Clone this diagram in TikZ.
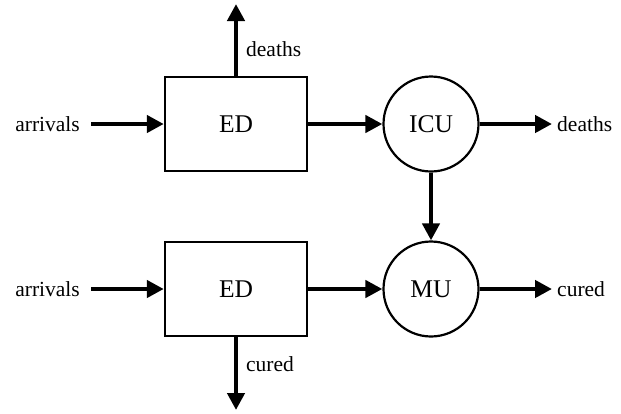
\documentclass[tikz,border=0pt]{standalone}
\usepackage{fontspec}
\setmainfont{Liberation Serif}
\usetikzlibrary{arrows.meta}
\begin{document}
\begin{tikzpicture}[x=1pt,y=-1pt,
  flow/.style={line width=4.5pt,-{Triangle[length=17pt,width=17pt]}},
  unitbox/.style={draw,line width=2.4pt,minimum width=142pt,minimum height=94pt,inner sep=0pt,font=\fontsize{25.5}{28}\selectfont},
  ward/.style={draw,circle,line width=2.2pt,minimum size=95pt,inner sep=0pt,font=\fontsize{25.5}{28}\selectfont},
  lab/.style={inner ysep=0pt,font=\fontsize{21.5}{24}\selectfont}]
\useasboundingbox (0,0) rectangle (621,413);
% top row: emergency department feeding the ICU
\node[unitbox] (ed1) at (236,124) {ED};
\node[ward] (icu) at (431,124) {ICU};
\node[lab,anchor=east,inner xsep=11pt] (arr1) at (91,124) {arrivals};
\node[lab,anchor=west,inner xsep=5pt] (dth2) at (552,124) {deaths};
\coordinate (up) at (236,4);
\node[lab,anchor=west,inner xsep=0pt] (dth1) at (246,49) {deaths};
\draw[flow] (arr1.east) -- (ed1.west);
\draw[flow] (ed1.north) -- (up);
\draw[flow] (ed1.east) -- (icu.west);
\draw[flow] (icu.east) -- (dth2.west);
% bottom row: emergency department feeding the medical unit
\node[unitbox] (ed2) at (236,289) {ED};
\node[ward] (mu) at (431,289) {MU};
\node[lab,anchor=east,inner xsep=11pt] (arr2) at (91,289) {arrivals};
\node[lab,anchor=west,inner xsep=5pt] (cur2) at (552,289) {cured};
\coordinate (down) at (236,410);
\node[lab,anchor=west,inner xsep=0pt] (cur1) at (246,364) {cured};
\draw[flow] (arr2.east) -- (ed2.west);
\draw[flow] (ed2.south) -- (down);
\draw[flow] (ed2.east) -- (mu.west);
\draw[flow] (mu.east) -- (cur2.west);
% transfer from ICU to MU
\draw[flow] (icu.south) -- (mu.north);
\end{tikzpicture}
\end{document}
